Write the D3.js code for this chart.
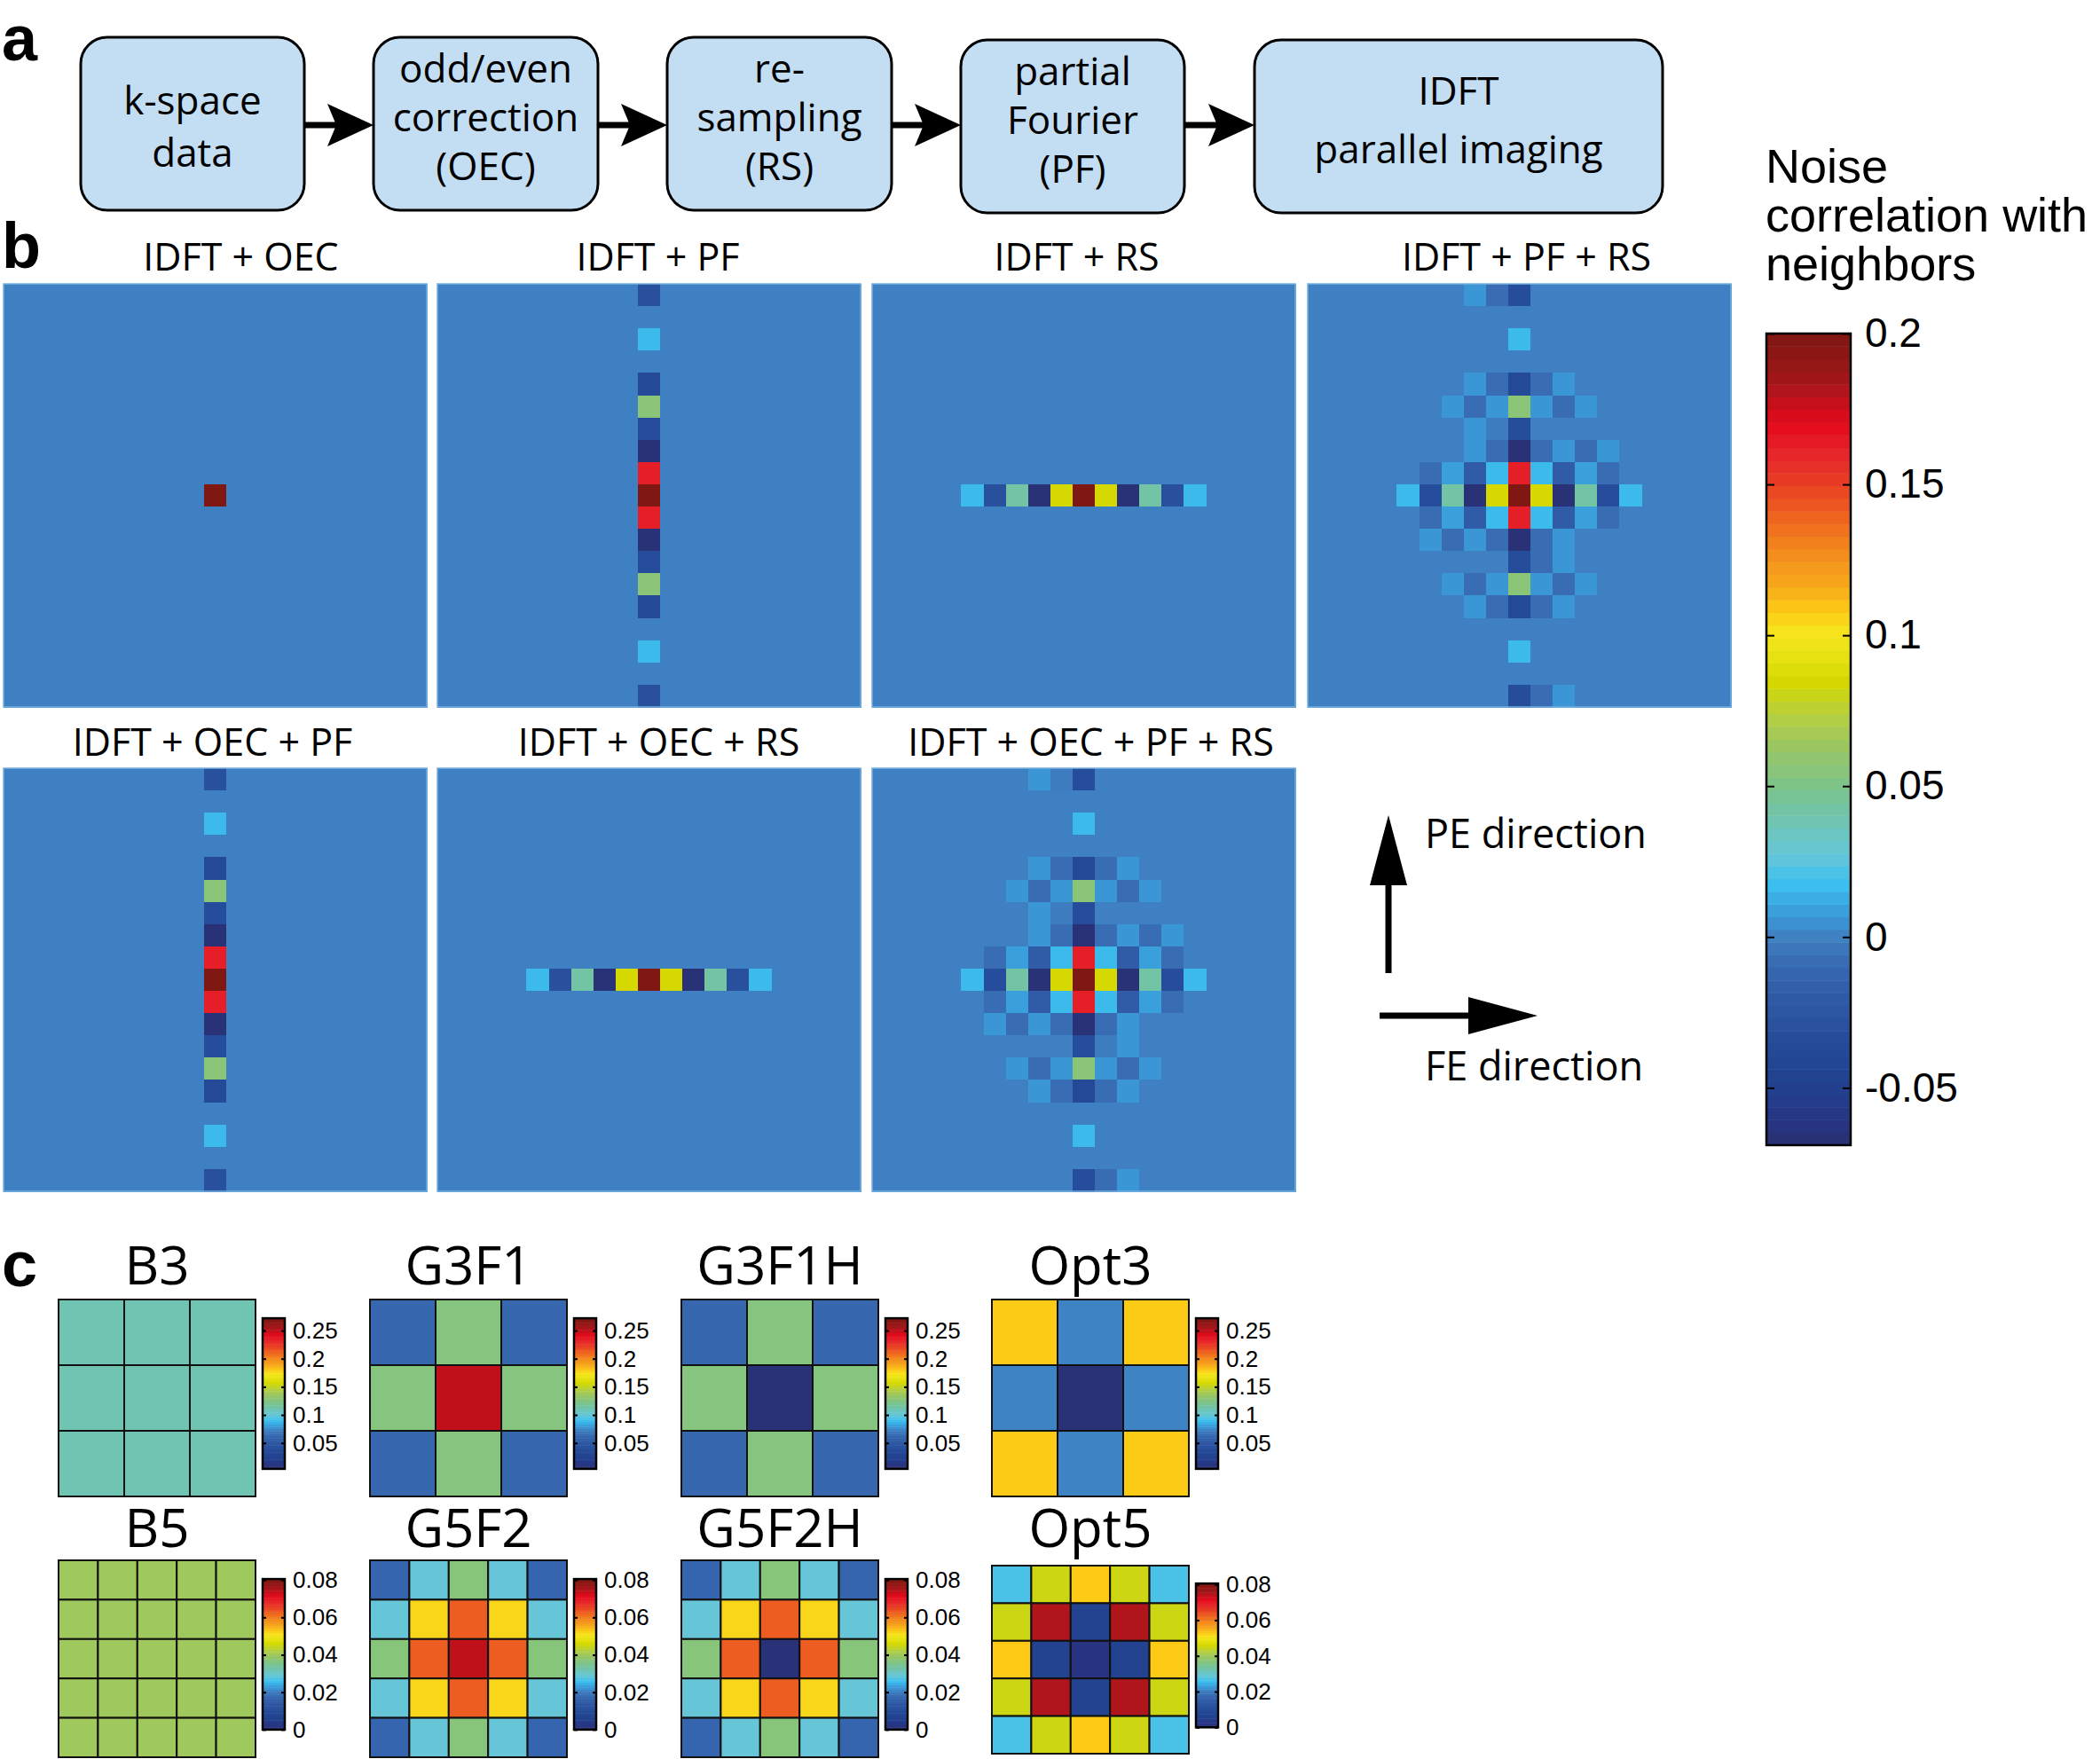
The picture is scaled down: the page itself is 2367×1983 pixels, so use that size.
<!DOCTYPE html>
<html>
<head>
<meta charset="utf-8">
<script src="https://cdn.jsdelivr.net/npm/d3@7"></script>
<style>
  body { margin: 0; background: #fff; }
  text { fill: #000; }
</style>
</head>
<body>
<svg id="fig" width="2367" height="1983"></svg>
<script>
// ---------- data ----------
const flowSteps = [
  ["k-space", "data"],
  ["odd/even", "correction", "(OEC)"],
  ["re-", "sampling", "(RS)"],
  ["partial", "Fourier", "(PF)"],
  ["IDFT", "parallel imaging"]
];

const gridN = 19;
const bTitles = ["IDFT + OEC", "IDFT + PF", "IDFT + RS", "IDFT + PF + RS",
                 "IDFT + OEC + PF", "IDFT + OEC + RS", "IDFT + OEC + PF + RS"];

// non-zero cells as [row, col, value]; every other cell is 0
const cellsOEC = [[9, 9, 0.2]];
const cellsPF = [
  [0, 9, -0.03], [2, 9, 0.016], [4, 9, -0.038], [5, 9, 0.056], [6, 9, -0.033],
  [7, 9, -0.066], [8, 9, 0.163], [9, 9, 0.2], [10, 9, 0.163], [11, 9, -0.066],
  [12, 9, -0.033], [13, 9, 0.056], [14, 9, -0.038], [16, 9, 0.016], [18, 9, -0.03]
];
const cellsRS = [
  [9, 4, 0.016], [9, 5, -0.03], [9, 6, 0.042], [9, 7, -0.066], [9, 8, 0.085], [9, 9, 0.2],
  [9, 10, 0.085], [9, 11, -0.066], [9, 12, 0.042], [9, 13, -0.03], [9, 14, 0.016]
];
const cellsPFRS = [
  [0, 7, 0.006], [0, 8, -0.008], [0, 9, -0.033],
  [2, 9, 0.016],
  [4, 7, 0.006], [4, 8, -0.008], [4, 9, -0.038], [4, 10, -0.008], [4, 11, 0.006],
  [5, 6, 0.006], [5, 7, -0.008], [5, 8, 0.006], [5, 9, 0.056], [5, 10, 0.006], [5, 11, -0.008], [5, 12, 0.006],
  [6, 7, 0.006], [6, 8, -0.002], [6, 9, -0.033],
  [7, 7, 0.006], [7, 8, -0.008], [7, 9, -0.066], [7, 10, -0.008], [7, 11, 0.006], [7, 12, -0.008], [7, 13, 0.006],
  [8, 5, -0.008], [8, 6, 0.009], [8, 7, -0.019], [8, 8, 0.016], [8, 9, 0.163], [8, 10, 0.016], [8, 11, -0.019], [8, 12, 0.009], [8, 13, -0.008],
  [9, 4, 0.016], [9, 5, -0.033], [9, 6, 0.042], [9, 7, -0.066], [9, 8, 0.085], [9, 9, 0.2],
  [9, 10, 0.085], [9, 11, -0.066], [9, 12, 0.042], [9, 13, -0.033], [9, 14, 0.016],
  [10, 5, -0.008], [10, 6, 0.009], [10, 7, -0.019], [10, 8, 0.016], [10, 9, 0.163], [10, 10, 0.016], [10, 11, -0.019], [10, 12, 0.009], [10, 13, -0.008],
  [11, 5, 0.006], [11, 6, -0.008], [11, 7, 0.006], [11, 8, -0.008], [11, 9, -0.066], [11, 10, -0.008], [11, 11, 0.006],
  [12, 9, -0.033], [12, 10, -0.008], [12, 11, 0.006],
  [13, 6, 0.006], [13, 7, -0.008], [13, 8, 0.006], [13, 9, 0.056], [13, 10, 0.006], [13, 11, -0.008], [13, 12, 0.006],
  [14, 7, 0.006], [14, 8, -0.008], [14, 9, -0.038], [14, 10, -0.008], [14, 11, 0.006],
  [16, 9, 0.016],
  [18, 9, -0.033], [18, 10, -0.008], [18, 11, 0.006]
];
const cellsOECPFRS = [
  [0, 7, 0.006], [0, 8, -0.002], [0, 9, -0.033],
  [2, 9, 0.016],
  [4, 7, 0.006], [4, 8, -0.008], [4, 9, -0.038], [4, 10, -0.008], [4, 11, 0.006],
  [5, 6, 0.006], [5, 7, -0.008], [5, 8, 0.006], [5, 9, 0.056], [5, 10, 0.006], [5, 11, -0.008], [5, 12, 0.006],
  [6, 7, 0.006], [6, 8, -0.002], [6, 9, -0.033],
  [7, 7, 0.006], [7, 8, -0.008], [7, 9, -0.066], [7, 10, -0.008], [7, 11, 0.006], [7, 12, -0.008], [7, 13, 0.006],
  [8, 5, -0.008], [8, 6, 0.009], [8, 7, -0.019], [8, 8, 0.016], [8, 9, 0.163], [8, 10, 0.016], [8, 11, -0.019], [8, 12, 0.009], [8, 13, -0.008],
  [9, 4, 0.016], [9, 5, -0.033], [9, 6, 0.042], [9, 7, -0.066], [9, 8, 0.085], [9, 9, 0.2],
  [9, 10, 0.085], [9, 11, -0.066], [9, 12, 0.042], [9, 13, -0.033], [9, 14, 0.016],
  [10, 5, -0.008], [10, 6, 0.009], [10, 7, -0.019], [10, 8, 0.016], [10, 9, 0.163], [10, 10, 0.016], [10, 11, -0.019], [10, 12, 0.009], [10, 13, -0.008],
  [11, 5, 0.006], [11, 6, -0.008], [11, 7, 0.006], [11, 8, -0.008], [11, 9, -0.066], [11, 10, -0.008], [11, 11, 0.006],
  [12, 9, -0.033], [12, 10, -0.002], [12, 11, 0.006],
  [13, 6, 0.006], [13, 7, -0.008], [13, 8, 0.006], [13, 9, 0.056], [13, 10, 0.006], [13, 11, -0.008], [13, 12, 0.006],
  [14, 7, 0.006], [14, 8, -0.008], [14, 9, -0.038], [14, 10, -0.008], [14, 11, 0.006],
  [16, 9, 0.016],
  [18, 9, -0.033], [18, 10, -0.008], [18, 11, 0.006]
];
const bCells = [cellsOEC, cellsPF, cellsRS, cellsPFRS, cellsPF, cellsRS, cellsOECPFRS];

const mainDomain = [-0.069, 0.2];
const mainTicks = [-0.05, 0, 0.05, 0.1, 0.15, 0.2];
const mainTitle = ["Noise", "correlation with", "neighbors"];

// panel c kernels
const kNames3 = ["B3", "G3F1", "G3F1H", "Opt3"];
const kNames5 = ["B5", "G5F2", "G5F2H", "Opt5"];
const kB3 = [[0.111, 0.111, 0.111], [0.111, 0.111, 0.111], [0.111, 0.111, 0.111]];
const kG3F1 = [[0.062, 0.126, 0.062], [0.126, 0.25, 0.126], [0.062, 0.126, 0.062]];
const kG3F1H = [[0.062, 0.126, 0.062], [0.126, 0.007, 0.126], [0.062, 0.126, 0.062]];
const kOpt3 = [[0.18, 0.074, 0.18], [0.074, 0.007, 0.074], [0.18, 0.074, 0.18]];
const kB5 = [
  [0.04, 0.04, 0.04, 0.04, 0.04], [0.04, 0.04, 0.04, 0.04, 0.04], [0.04, 0.04, 0.04, 0.04, 0.04],
  [0.04, 0.04, 0.04, 0.04, 0.04], [0.04, 0.04, 0.04, 0.04, 0.04]
];
const kG5F2 = [
  [0.017, 0.029, 0.037, 0.029, 0.017],
  [0.029, 0.052, 0.063, 0.052, 0.029],
  [0.037, 0.063, 0.074, 0.063, 0.037],
  [0.029, 0.052, 0.063, 0.052, 0.029],
  [0.017, 0.029, 0.037, 0.029, 0.017]
];
const kG5F2H = [
  [0.017, 0.029, 0.037, 0.029, 0.017],
  [0.029, 0.052, 0.063, 0.052, 0.029],
  [0.037, 0.063, 0.001, 0.063, 0.037],
  [0.029, 0.052, 0.063, 0.052, 0.029],
  [0.017, 0.029, 0.037, 0.029, 0.017]
];
const kOpt5 = [
  [0.027, 0.045, 0.053, 0.045, 0.027],
  [0.045, 0.075, 0.007, 0.075, 0.045],
  [0.053, 0.007, 0.002, 0.007, 0.053],
  [0.045, 0.075, 0.007, 0.075, 0.045],
  [0.027, 0.045, 0.053, 0.045, 0.027]
];
const kDomain3 = [0.004, 0.272];
const kDomain5 = [0, 0.0805];
const kTicks3 = [0.05, 0.1, 0.15, 0.2, 0.25];
const kTicks5 = [0, 0.02, 0.04, 0.06, 0.08];

// ---------- colormap (jet-like, as in the figure) ----------
const cmapStops = [
  [0, "#2a2f70"], [0.03, "#273584"], [0.074, "#22418e"], [0.122, "#244a98"], [0.17, "#2d56a3"],
  [0.219, "#3668b0"], [0.259, "#3f82c2"], [0.27, "#3c8ed0"], [0.296, "#3aa5e0"], [0.322, "#3cc0ef"],
  [0.359, "#66c6d8"], [0.4, "#6fc4b1"], [0.441, "#7cc48a"], [0.489, "#99c664"], [0.53, "#b7cf42"],
  [0.57, "#d4d800"], [0.596, "#e3e00e"], [0.63, "#f5e61c"], [0.659, "#fdc916"], [0.685, "#f7ad1a"],
  [0.726, "#f38f1d"], [0.767, "#ef6a1e"], [0.815, "#e83e24"], [0.856, "#e6232a"], [0.889, "#e4091a"],
  [0.937, "#a8161a"], [0.97, "#8e1714"], [1, "#7f1712"]
];
const cmapT = d3.scaleLinear()
  .domain(cmapStops.map(d => d[0]))
  .range(cmapStops.map(d => d[1]))
  .interpolate(d3.interpolateRgb)
  .clamp(true);
function makeColor(domain) {
  const t = d3.scaleLinear().domain(domain).range([0, 1]).clamp(true);
  return v => cmapT(t(v));
}

const svg = d3.select("#fig");
const sans = "'Open Sans', 'DejaVu Sans', sans-serif";
const helv = "'Liberation Sans', Arial, sans-serif";

// panel letters
[["a", 2, 68], ["b", 2, 302], ["c", 2, 1450]].forEach(([t, x, y]) => {
  svg.append("text").attr("x", x).attr("y", y).text(t)
    .attr("font-family", helv).attr("font-weight", "bold").attr("font-size", 72);
});

// ---------- panel a : flow chart ----------
const boxX = [91, 421, 752, 1083, 1414];
const boxW = [252, 253, 253, 252, 460];
const boxY = [42, 42, 42, 45, 45];
const boxH = 195;
const lineOff = [19, 8, 8, 8, 8];
const lineH = [59, 55, 55, 55, 66];
const ga = svg.append("g");
flowSteps.forEach((lines, i) => {
  ga.append("rect")
    .attr("x", boxX[i]).attr("y", boxY[i]).attr("width", boxW[i]).attr("height", boxH)
    .attr("rx", 30).attr("ry", 30)
    .attr("fill", "#c3ddf3").attr("stroke", "#000").attr("stroke-width", 3);
  const cy = boxY[i] + boxH / 2;
  lines.forEach((l, j) => {
    ga.append("text")
      .attr("x", boxX[i] + boxW[i] / 2)
      .attr("y", cy + lineOff[i] + (j - (lines.length - 1) / 2) * lineH[i])
      .attr("text-anchor", "middle")
      .attr("font-family", sans).attr("font-size", 44)
      .text(l);
  });
  if (i < flowSteps.length - 1) {
    const x1 = boxX[i] + boxW[i], x2 = boxX[i + 1], y = 141;
    ga.append("line").attr("x1", x1).attr("x2", x2 - 40).attr("y1", y).attr("y2", y)
      .attr("stroke", "#000").attr("stroke-width", 7);
    ga.append("path")
      .attr("d", `M${x2},${y} L${x2 - 52},${y - 24} L${x2 - 42},${y} L${x2 - 52},${y + 24} Z`)
      .attr("fill", "#000");
  }
});

// ---------- panel b : correlation maps ----------
const bX = [4, 493, 983, 1474, 4, 493, 983];
const bY = [320, 320, 320, 320, 866, 866, 866];
const bTitleY = [305, 305, 305, 305, 852, 852, 852];
const bTitleDx = [29, 10, -8, 8, -3, 11, 8];
const bSize = 477;
const colorMain = makeColor(mainDomain);

bCells.forEach((cells, p) => {
  const full = [];
  for (let r = 0; r < gridN; r++) for (let c = 0; c < gridN; c++) full.push({ r, c, v: 0 });
  cells.forEach(([r, c, v]) => { full[r * gridN + c].v = v; });
  const band = d3.scaleBand().domain(d3.range(gridN)).range([0, bSize]);
  const g = svg.append("g").attr("transform", `translate(${bX[p]},${bY[p]})`);
  g.append("rect").attr("width", bSize).attr("height", bSize).attr("fill", colorMain(0));
  g.selectAll("rect.cell").data(full).join("rect")
    .attr("class", "cell")
    .attr("x", d => band(d.c)).attr("y", d => band(d.r))
    .attr("width", band.bandwidth() + 0.6).attr("height", band.bandwidth() + 0.6)
    .attr("shape-rendering", "crispEdges")
    .attr("fill", d => colorMain(d.v));
  g.append("rect").attr("width", bSize).attr("height", bSize)
    .attr("fill", "none").attr("stroke", "#76b0e2").attr("stroke-width", 1.5);
  svg.append("text")
    .attr("x", bX[p] + bSize / 2 + bTitleDx[p]).attr("y", bTitleY[p])
    .attr("text-anchor", "middle")
    .attr("font-family", sans).attr("font-size", 43)
    .text(bTitles[p]);
});

// direction arrows
const gd = svg.append("g");
gd.append("line").attr("x1", 1565).attr("x2", 1565).attr("y1", 1097).attr("y2", 990)
  .attr("stroke", "#000").attr("stroke-width", 7);
gd.append("path").attr("d", "M1565,919 L1586,998 L1544,998 Z").attr("fill", "#000");
gd.append("line").attr("x1", 1555).attr("x2", 1662).attr("y1", 1145).attr("y2", 1145)
  .attr("stroke", "#000").attr("stroke-width", 7);
gd.append("path").attr("d", "M1733,1145 L1655,1124 L1655,1166 Z").attr("fill", "#000");
gd.append("text").attr("x", 1606).attr("y", 956).attr("font-family", sans).attr("font-size", 45).text("PE direction");
gd.append("text").attr("x", 1606).attr("y", 1218).attr("font-family", sans).attr("font-size", 45).text("FE direction");

// colour bar helper
function colorBar(g, x, y0, y1, w, domain, ticks, fontSize, pad, tickLen, fmt) {
  const y = d3.scaleLinear().domain(domain).range([y1, y0]);
  const n = 64;
  const step = (domain[1] - domain[0]) / n;
  const col = makeColor(domain);
  g.selectAll(null).data(d3.range(n)).join("rect")
    .attr("x", x).attr("width", w)
    .attr("y", i => y(domain[0] + (i + 1) * step))
    .attr("height", i => y(domain[0] + i * step) - y(domain[0] + (i + 1) * step) + 0.5)
    .attr("fill", i => col(domain[0] + (i + 0.5) * step));
  const right = g.append("g").attr("transform", `translate(${x + w},0)`)
    .call(d3.axisRight(y).tickValues(ticks).tickSize(-tickLen).tickPadding(pad).tickFormat(fmt));
  const left = g.append("g").attr("transform", `translate(${x},0)`)
    .call(d3.axisLeft(y).tickValues(ticks).tickSize(-tickLen).tickFormat(""));
  [right, left].forEach(a => {
    a.select(".domain").remove();
    a.selectAll("line").attr("stroke", "#000").attr("stroke-width", 2);
  });
  right.selectAll("text").attr("font-family", helv).attr("font-size", fontSize).attr("fill", "#000");
  g.append("rect").attr("x", x).attr("y", y0).attr("width", w).attr("height", y1 - y0)
    .attr("fill", "none").attr("stroke", "#000").attr("stroke-width", 2.5);
}

// main colour bar
const gcb = svg.append("g");
colorBar(gcb, 1991, 376, 1291, 95, mainDomain, mainTicks, 46, 16, 9, d => String(d));
mainTitle.forEach((t, i) => {
  svg.append("text").attr("x", 1990).attr("y", 206 + i * 55)
    .attr("font-family", helv).attr("font-size", 54).text(t);
});

// ---------- panel c : kernels ----------
const kX = [66, 417, 768, 1118];
const kernels3 = [kB3, kG3F1, kG3F1H, kOpt3];
const kernels5 = [kB5, kG5F2, kG5F2H, kOpt5];
const kRows = [
  { names: kNames3, mats: kernels3, domain: kDomain3, ticks: kTicks3, top: [1465, 1465, 1465, 1465], size: [222, 222, 222, 222], titleY: 1448 },
  { names: kNames5, mats: kernels5, domain: kDomain5, ticks: kTicks5, top: [1759, 1759, 1759, 1765], size: [222, 222, 222, 212], titleY: 1744 }
];

kRows.forEach(row => {
  const col = makeColor(row.domain);
  row.mats.forEach((m, i) => {
    const n = m.length;
    const x0 = kX[i], y0 = row.top[i], h = row.size[i], w = 222;
    const bx = d3.scaleBand().domain(d3.range(n)).range([0, w]);
    const by = d3.scaleBand().domain(d3.range(n)).range([0, h]);
    const cells = [];
    m.forEach((r, ri) => r.forEach((v, ci) => cells.push({ r: ri, c: ci, v })));
    const g = svg.append("g").attr("transform", `translate(${x0},${y0})`);
    g.selectAll("rect").data(cells).join("rect")
      .attr("x", d => bx(d.c)).attr("y", d => by(d.r))
      .attr("width", bx.bandwidth()).attr("height", by.bandwidth())
      .attr("fill", d => col(d.v))
      .attr("stroke", "#111").attr("stroke-width", 2);
    svg.append("text").attr("x", x0 + w / 2).attr("y", row.titleY)
      .attr("text-anchor", "middle").attr("font-family", sans).attr("font-size", 60)
      .text(row.names[i]);
    const cbTop = y0 + h * 0.095, cbBot = y0 + h * 0.86;
    colorBar(svg.append("g"), x0 + 230, cbTop, cbBot, 25, row.domain, row.ticks, 26, 9, 4, d => String(d));
  });
});
</script>
</body>
</html>
